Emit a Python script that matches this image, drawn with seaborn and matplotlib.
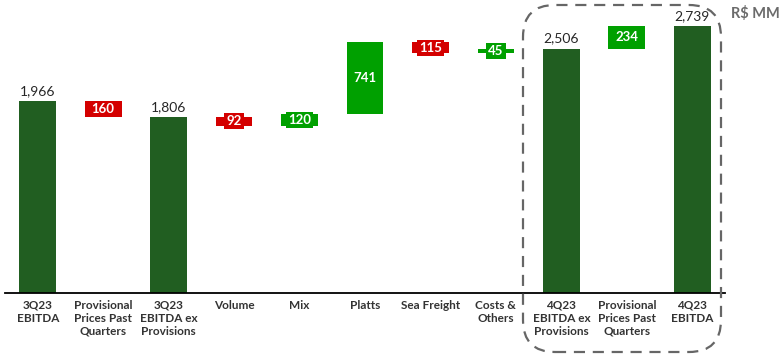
import matplotlib
matplotlib.use("Agg")
import matplotlib.pyplot as plt
import seaborn as sns
import numpy as np
import pandas as pd
from matplotlib.patches import FancyBboxPatch
from matplotlib.transforms import IdentityTransform

categories = ["3Q23\nEBITDA", "Provisional\nPrices Past\nQuarters", "3Q23\nEBITDA ex\nProvisions",
              "Volume", "Mix", "Platts", "Sea Freight", "Costs &\nOthers",
              "4Q23\nEBITDA ex\nProvisions", "Provisional\nPrices Past\nQuarters", "4Q23\nEBITDA"]
values = [1966, -160, 1806, -92, 120, 741, -115, 45, 2506, 234, 2739]
kinds = ["total", "delta", "total", "delta", "delta", "delta", "delta", "delta", "total", "delta", "total"]
unit_label = "R$ MM"

DARK = "#215E21"
GREEN = "#00A000"
RED = "#D40000"

sns.set_theme(style="white")
plt.rcParams["font.family"] = ["Lato", "DejaVu Sans"]

# waterfall geometry from data
starts, ends = [], []
running = 0
for v, k in zip(values, kinds):
    if k == "total":
        starts.append(0); ends.append(v); running = v
    else:
        starts.append(running); ends.append(running + v); running += v
tops = [max(s, e) for s, e in zip(starts, ends)]
bots = [min(s, e) for s, e in zip(starts, ends)]
colors = [DARK if k == "total" else (GREEN if v > 0 else RED) for v, k in zip(values, kinds)]

idx = list(range(len(categories)))
df = pd.DataFrame({"pos": idx, "top": tops, "bot": bots})

fig = plt.figure(figsize=(7.8, 3.59), dpi=100)
ax = fig.add_axes([5 / 780, 66 / 359, 720 / 780, 283 / 359])

sns.barplot(data=df, x="pos", y="top", hue="pos", palette=colors, width=0.56,
            saturation=1, legend=False, errorbar=None, ax=ax, linewidth=0)
sns.barplot(data=df, x="pos", y="bot", color="white", width=0.62,
            saturation=1, errorbar=None, ax=ax, linewidth=0)

ax.set_ylim(0, 283 / 0.0975)
ax.set_xlim(-0.5, len(categories) - 0.5)
ax.set_xlabel("")
ax.set_ylabel("")
ax.set_yticks([])
ax.set_xticks(idx)
ax.set_xticklabels(categories, fontsize=8.5, fontweight="bold", color="#333333", linespacing=1.2)
ax.tick_params(axis="x", length=0, pad=5)
for s in ["top", "left", "right"]:
    ax.spines[s].set_visible(False)
ax.spines["bottom"].set_color("black")
ax.spines["bottom"].set_linewidth(1.3)

for i, (v, k) in enumerate(zip(values, kinds)):
    if k == "total":
        ax.annotate(f"{v:,}", (i, tops[i]), xytext=(0, 3), textcoords="offset points",
                    ha="center", va="bottom", fontsize=10, color="#262626")
    else:
        ax.text(i, (starts[i] + ends[i]) / 2, f"{abs(v):,}", ha="center", va="center",
                fontsize=9.5, fontweight="bold", color="white", zorder=5,
                bbox=dict(boxstyle="square,pad=0.15", facecolor=colors[i], edgecolor="none"))

# dashed rounded highlight box (pixel coords)
box = FancyBboxPatch((523, 359 - 352), 198, 347,
                     boxstyle="round,pad=0,rounding_size=32",
                     transform=IdentityTransform(), fill=False,
                     edgecolor="#666666", linewidth=1.6, linestyle=(0, (5, 3.5)))
fig.add_artist(box)

fig.text(755 / 780, 1 - 14 / 359, unit_label, ha="center", va="center",
         fontsize=10.5, fontweight="bold", color="#6B6B6B")

fig.savefig("out.png", dpi=100)
